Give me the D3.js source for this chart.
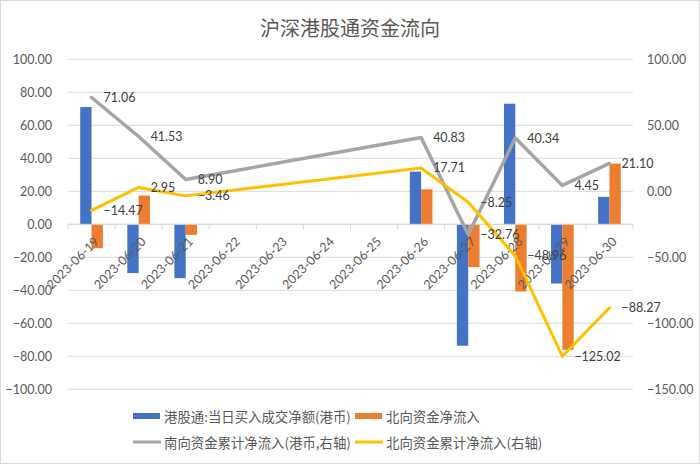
<!DOCTYPE html>
<html><head><meta charset="utf-8">
<script src="https://cdn.jsdelivr.net/npm/d3@7"></script>
<style>body{margin:0;background:#fff}svg{display:block}</style>
</head><body>
<script>
const dates = ['2023-06-19','2023-06-20','2023-06-21','2023-06-22','2023-06-23','2023-06-24','2023-06-25','2023-06-26','2023-06-27','2023-06-28','2023-06-29','2023-06-30'];
const southDaily = [71.06, -29.53, -32.63, null, null, null, null, 31.93, -73.59, 73.10, -35.89, 16.65];
const northDaily = [-14.47, 17.42, -6.41, null, null, null, null, 21.17, -25.96, -40.71, -76.06, 36.75];
const southCum = [71.06, 41.53, 8.90, null, null, null, null, 40.83, -32.76, 40.34, 4.45, 21.10];
const northCum = [-14.47, 2.95, -3.46, null, null, null, null, 17.71, -8.25, -48.96, -125.02, -88.27];
const leftTicks = [100, 80, 60, 40, 20, 0, -20, -40, -60, -80, -100];
const rightTicks = [100, 50, 0, -50, -100, -150];
const seriesNames = ['港股通:当日买入成交净额(港币)', '北向资金净流入', '南向资金累计净流入(港币,右轴)', '北向资金累计净流入(右轴)'];
const title = '沪深港股通资金流向';

const W = 700, H = 464;
const colors = {blue:'#4472C4', orange:'#ED7D31', grey:'#A5A5A5', yellow:'#FFC000'};
const numFont = 'Lato, "Noto Sans", sans-serif';
const cjkFont = '"Noto Sans CJK SC", "Noto Sans", sans-serif';

const svg = d3.select('body').append('svg').attr('width', W).attr('height', H);
svg.append('rect').attr('x',0.5).attr('y',0.5).attr('width',W-1).attr('height',H-1).attr('fill','#fff').attr('stroke','#D9D9D9');

const plot = {l:68, r:633, t:59.3, b:389.3};
const x = d3.scaleBand().domain(dates).range([plot.l, plot.r]).padding(0);
const x1 = d3.scaleBand().domain(['s','n']).range([0, x.bandwidth()]).paddingInner(0).paddingOuter(1.08);
const yL = d3.scaleLinear().domain([-100, 100]).range([plot.b, plot.t]);
const yR = d3.scaleLinear().domain([-150, 100]).range([plot.b, plot.t]);

svg.append('text').attr('x', 350).attr('y', 27).attr('text-anchor','middle').attr('dominant-baseline','central')
  .attr('font-family', cjkFont).attr('font-size', 20).attr('fill','#595959').text(title);

// gridlines
svg.append('g').selectAll('line').data(leftTicks).join('line')
  .attr('x1', plot.l).attr('x2', plot.r).attr('y1', d=>yL(d)).attr('y2', d=>yL(d))
  .attr('stroke','#D9D9D9').attr('stroke-width',1);

// left axis
const gL = svg.append('g').attr('transform', `translate(${plot.l},0)`)
  .call(d3.axisLeft(yL).tickValues(leftTicks).tickSize(0).tickPadding(16).tickFormat(d3.format('.2f')));
gL.select('.domain').remove();
gL.selectAll('text').attr('font-family', numFont).attr('font-size', 12.5).attr('fill','#595959');

// right axis
const gR = svg.append('g').attr('transform', `translate(${plot.r},0)`)
  .call(d3.axisRight(yR).tickValues(rightTicks).tickSize(0).tickPadding(14).tickFormat(d3.format('.2f')));
gR.select('.domain').remove();
gR.selectAll('text').attr('font-family', numFont).attr('font-size', 12.5).attr('fill','#595959');

// bars
const bars = svg.append('g');
dates.forEach((d, i) => {
  [['s', southDaily[i], colors.blue], ['n', northDaily[i], colors.orange]].forEach(([k, v, c]) => {
    if (v == null) return;
    bars.append('rect').attr('x', x(d) + x1(k)).attr('width', x1.bandwidth())
      .attr('y', yL(Math.max(0, v))).attr('height', Math.abs(yL(v) - yL(0))).attr('fill', c);
  });
});

// x axis
const gX = svg.append('g').attr('transform', `translate(0,${yL(0)})`);
gX.append('line').attr('x1', plot.l).attr('x2', plot.r).attr('stroke','#D9D9D9');
const bounds = dates.map(d => x(d)).concat([plot.r]);
gX.selectAll('line.tk').data(bounds).join('line').attr('class','tk')
  .attr('x1', d=>d).attr('x2', d=>d).attr('y1',0).attr('y2',5).attr('stroke','#D9D9D9');
gX.selectAll('text').data(dates).join('text')
  .attr('transform', d => `translate(${x(d) + x.bandwidth()/2 + 5},${15}) rotate(-45)`)
  .attr('text-anchor','end').attr('dy','0.35em')
  .attr('font-family', numFont).attr('font-size', 12.5).attr('fill','#595959').text(d=>d);

// lines
const pts = arr => dates.map((d, i) => ({d, v: arr[i]})).filter(p => p.v != null);
const line = d3.line().x(p => x(p.d) + x.bandwidth()/2).y(p => yR(p.v));
[[southCum, colors.grey, 3.5], [northCum, colors.yellow, 3]].forEach(([arr, c, w]) => {
  svg.append('path').datum(pts(arr)).attr('d', line).attr('fill','none').attr('stroke', c)
    .attr('stroke-width', w).attr('stroke-linejoin','round').attr('stroke-linecap','round');
});
[southCum, northCum].forEach(arr => {
  svg.append('g').selectAll('text').data(pts(arr)).join('text')
    .attr('x', p => x(p.d) + x.bandwidth()/2 + 12).attr('y', p => yR(p.v))
    .attr('dominant-baseline','central').attr('font-family', numFont).attr('font-size', 12.5)
    .attr('fill','#404040').text(p => d3.format('.2f')(p.v));
});

// legend
const leg = [
  {name: seriesNames[0], c: colors.blue, type:'bar', x:133, y:416},
  {name: seriesNames[1], c: colors.orange, type:'bar', x:355, y:416},
  {name: seriesNames[2], c: colors.grey, type:'line', x:133, y:442},
  {name: seriesNames[3], c: colors.yellow, type:'line', x:355, y:442}
];
const gLeg = svg.append('g');
leg.forEach(it => {
  if (it.type === 'bar') gLeg.append('rect').attr('x', it.x).attr('y', it.y - 3).attr('width', 27).attr('height', 6).attr('fill', it.c);
  else gLeg.append('line').attr('x1', it.x).attr('x2', it.x + 28).attr('y1', it.y).attr('y2', it.y).attr('stroke', it.c).attr('stroke-width', 3);
  gLeg.append('text').attr('x', it.x + 31).attr('y', it.y).attr('dominant-baseline','central')
    .attr('font-family', cjkFont).attr('font-size', 13.4).attr('fill','#595959').text(it.name);
});
</script>
</body></html>
